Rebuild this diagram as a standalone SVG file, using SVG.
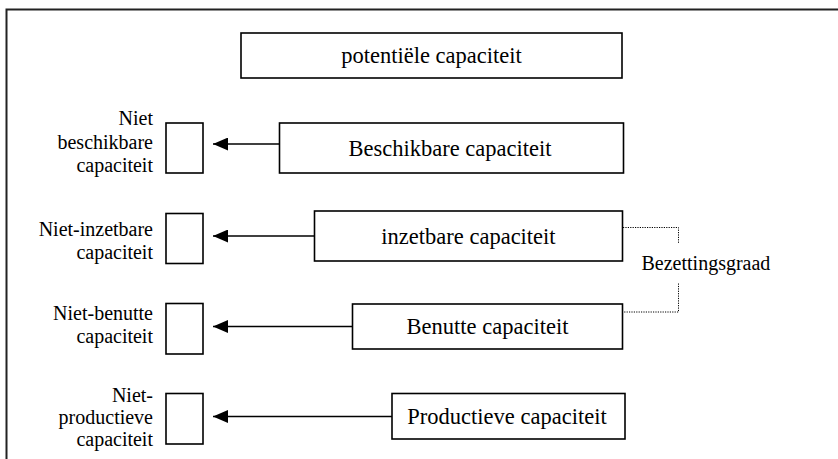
<svg xmlns="http://www.w3.org/2000/svg" width="838" height="459" viewBox="0 0 838 459">
  <style>
    .frame { fill: none; stroke: #222; stroke-width: 2; }
    .box { fill: #fff; stroke: #000; stroke-width: 1.6; }
    .main { font-family: "Liberation Serif", "Times New Roman", serif; font-size: 22.5px; fill: #000; text-anchor: middle; }
    .lbl { font-family: "Liberation Serif", "Times New Roman", serif; font-size: 20px; fill: #000; text-anchor: end; }
    .side { font-family: "Liberation Serif", "Times New Roman", serif; font-size: 20px; fill: #000; }
    .arrow { stroke: #000; stroke-width: 1.6; fill: none; marker-end: url(#head); }
    .dots { stroke: #000; stroke-width: 1; fill: none; stroke-dasharray: 1.2 1.2; }
  </style>
  <defs>
    <marker id="head" viewBox="0 0 15 13" refX="15" refY="6.5" markerWidth="15" markerHeight="13" markerUnits="userSpaceOnUse" orient="auto">
      <path d="M0,0 L15,6.5 L0,13 z" fill="#000"/>
    </marker>
  </defs>

  <rect width="838" height="459" fill="#fff"/>

  <!-- open frame: top and left edges only -->
  <path class="frame" d="M6.5,459 V9.5 H838"/>

  <g id="potentieel">
    <rect class="box" x="241" y="33" width="381" height="45"/>
    <text class="main" x="431.5" y="63">potentiële capaciteit</text>
  </g>

  <g id="beschikbaar">
    <rect class="box" x="279.5" y="123" width="344" height="50"/>
    <text class="main" x="450" y="155.5">Beschikbare capaciteit</text>
  </g>
  <g id="niet-beschikbaar">
    <rect class="box" x="166" y="123" width="37" height="50"/>
    <text class="lbl" x="153" y="125">Niet</text>
    <text class="lbl" x="153" y="148.5">beschikbare</text>
    <text class="lbl" x="153" y="171.5">capaciteit</text>
  </g>

  <g id="inzetbaar">
    <rect class="box" x="314.5" y="211" width="308" height="50"/>
    <text class="main" x="468.5" y="243.5">inzetbare capaciteit</text>
  </g>
  <g id="niet-inzetbaar">
    <rect class="box" x="166" y="213.5" width="37" height="50"/>
    <text class="lbl" x="153" y="235.5">Niet-inzetbare</text>
    <text class="lbl" x="153" y="258.5">capaciteit</text>
  </g>

  <g id="benut">
    <rect class="box" x="352.5" y="304" width="270" height="45"/>
    <text class="main" x="487.5" y="334">Benutte capaciteit</text>
  </g>
  <g id="niet-benut">
    <rect class="box" x="166" y="303.5" width="37" height="50.5"/>
    <text class="lbl" x="153" y="320">Niet-benutte</text>
    <text class="lbl" x="153" y="343">capaciteit</text>
  </g>

  <g id="productief">
    <rect class="box" x="392" y="393.5" width="233" height="45.5"/>
    <text class="main" x="507" y="423.5">Productieve capaciteit</text>
  </g>
  <g id="niet-productief">
    <rect class="box" x="166" y="393.5" width="37" height="50.5"/>
    <text class="lbl" x="153" y="402">Niet-</text>
    <text class="lbl" x="153" y="424">productieve</text>
    <text class="lbl" x="153" y="446">capaciteit</text>
  </g>

  <g id="bezettingsgraad">
    <text class="side" x="641.5" y="269.5">Bezettingsgraad</text>
  </g>

  <g id="connectors">
    <line class="arrow" x1="279.5" y1="144" x2="213" y2="144"/>
    <line class="arrow" x1="314.5" y1="236" x2="213" y2="236"/>
    <line class="arrow" x1="352.5" y1="326.5" x2="213" y2="326.5"/>
    <line class="arrow" x1="392" y1="416.5" x2="213" y2="416.5"/>
    <path class="dots" d="M623,227.5 H678.5 V243.5"/>
    <path class="dots" d="M678.5,283.5 V312 H623"/>
  </g>
</svg>
